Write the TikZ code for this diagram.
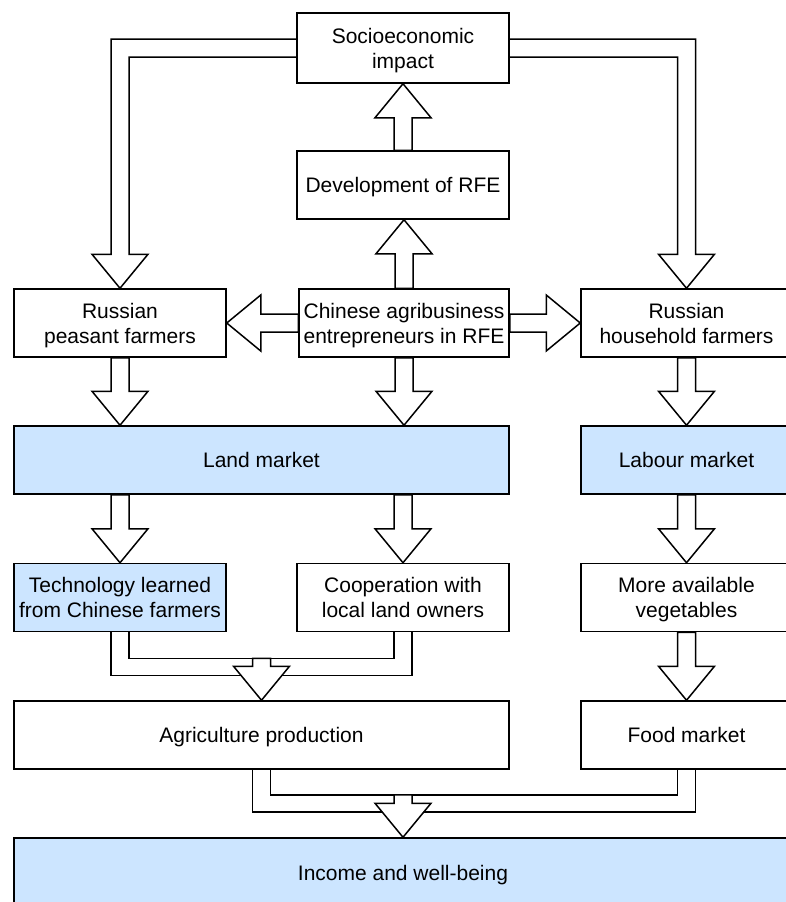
\documentclass[tikz,border=0pt]{standalone}
\usepackage{fontspec}
\setmainfont{Liberation Sans}
\usetikzlibrary{calc}
\definecolor{mktblue}{RGB}{204,229,255}

% hollow arrow from #1 to #2 (both named coordinates)
\newcommand{\blockarrow}[2]{%
	\coordinate (hb) at ($(#2)!34pt!(#1)$);
	\draw[fatarrow] ($(#1)!9pt!90:(#2)$) -- ($(hb)!9pt!90:(#2)$) -- ($(hb)!28pt!90:(#2)$)
	-- (#2) -- ($(hb)!28pt!-90:(#2)$) -- ($(hb)!9pt!-90:(#2)$) -- ($(#1)!9pt!-90:(#2)$) -- cycle;}

\begin{document}
\begin{tikzpicture}[x=1pt, y=-1pt,
	box/.style={draw, line width=1.5pt, minimum width=212pt, minimum height=68pt,
		inner sep=0pt, text depth=0pt, align=center, font=\fontsize{21}{25}\selectfont},
	market/.style={box, fill=mktblue},
	fatline/.style={draw, line width=1.5pt, line join=miter},
	fatarrow/.style={fatline, fill=white}]
	\useasboundingbox (0,0) rectangle (786,902);
	\clip (0,0) rectangle (786,902);

	\node[box, minimum height=70pt] (socio) at (403,48) {Socioeconomic\\impact};
	\node[box] (dev) at (403,185) {Development of RFE};
	\node[box] (peasant) at (120,323) {Russian\\peasant farmers};
	\node[box, minimum width=210pt] (chinese) at (404,323) {Chinese agribusiness\\entrepreneurs in RFE};
	\node[box, minimum width=211pt] (household) at (686.5,323) {Russian\\household farmers};
	\node[market, minimum width=495pt] (land) at (261.5,460) {Land market};
	\node[market, minimum width=211pt] (labour) at (686.5,460) {Labour market};
	\node[market] (tech) at (120,597.5) {Technology learned\\from Chinese farmers};
	\node[box] (coop) at (403,597.5) {Cooperation with\\local land owners};
	\node[box, minimum width=211pt] (veg) at (686.5,597.5) {More available\\vegetables};
	\node[box, minimum width=495pt] (agri) at (261.5,735) {Agriculture production};
	\node[box, minimum width=211pt] (food) at (686.5,735) {Food market};
	\node[market, minimum width=778pt, minimum height=70pt] (income) at (403,873) {Income and well-being};

	\coordinate (kl) at (peasant.north |- socio.west);
	\coordinate (kr) at (household.north |- socio.east);
	\draw[fatline] ($(socio.west)+(0,-9)$) -- ($(kl)+(-9,-9)$) -- ($(peasant.north)+(-9,-34)$)
	-- ($(peasant.north)+(-28,-34)$) -- (peasant.north) -- ($(peasant.north)+(28,-34)$)
	-- ($(peasant.north)+(9,-34)$) -- ($(kl)+(9,9)$) -- ($(socio.west)+(0,9)$);
	\draw[fatline] ($(socio.east)+(0,-9)$) -- ($(kr)+(9,-9)$) -- ($(household.north)+(9,-34)$)
	-- ($(household.north)+(28,-34)$) -- (household.north) -- ($(household.north)+(-28,-34)$)
	-- ($(household.north)+(-9,-34)$) -- ($(kr)+(-9,9)$) -- ($(socio.east)+(0,9)$);

	\coordinate (c1) at (chinese.north |- dev.south);
	\coordinate (p1) at (peasant.south |- land.north);
	\coordinate (c2) at (chinese.south |- land.north);
	\coordinate (t1) at (tech.north |- land.south);
	\coordinate (o1) at (coop.north |- land.south);
	\blockarrow{dev.north}{socio.south}
	\blockarrow{chinese.north}{c1}
	\blockarrow{chinese.west}{peasant.east}
	\blockarrow{chinese.east}{household.west}
	\blockarrow{peasant.south}{p1}
	\blockarrow{chinese.south}{c2}
	\blockarrow{household.south}{labour.north}
	\blockarrow{t1}{tech.north}
	\blockarrow{o1}{coop.north}
	\blockarrow{labour.south}{veg.north}
	\blockarrow{veg.south}{food.north}

	\draw[fatline] ($(tech.south)+(-9,0)$) -- ($(tech.south)+(-9,43)$) -- ($(coop.south)+(9,43)$) -- ($(coop.south)+(9,0)$);
	\draw[fatline] ($(tech.south)+(9,0)$) -- ($(tech.south)+(9,26)$) -- ($(coop.south)+(-9,26)$) -- ($(coop.south)+(-9,0)$);
	\coordinate (m1) at ($(tech.south)!0.5!(coop.south)+(0,26)$);
	\blockarrow{m1}{agri.north}

	\draw[fatline] ($(agri.south)+(-9,0)$) -- ($(agri.south)+(-9,42)$) -- ($(food.south)+(9,42)$) -- ($(food.south)+(9,0)$);
	\draw[fatline] ($(agri.south)+(9,0)$) -- ($(agri.south)+(9,25)$) -- ($(food.south)+(-9,25)$) -- ($(food.south)+(-9,0)$);
	\path (income.north |- agri.south) ++(0,25) coordinate (m2);
	\blockarrow{m2}{income.north}
\end{tikzpicture}
\end{document}
